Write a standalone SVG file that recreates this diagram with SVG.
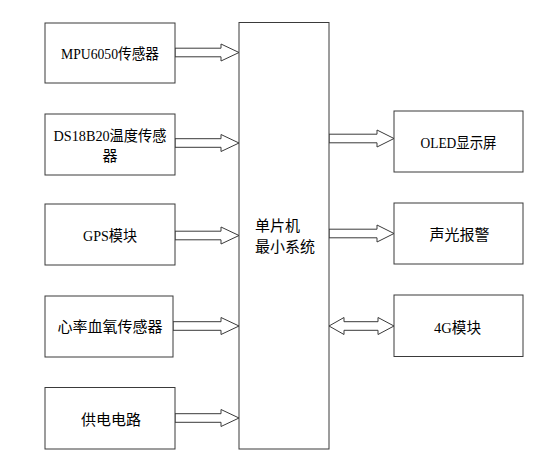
<svg xmlns="http://www.w3.org/2000/svg" width="535" height="457" viewBox="0 0 535 457">
<style>
  .box { fill: #fff; stroke: #3a3a3a; stroke-width: 1; }
  .arw { fill: #fff; stroke: #3a3a3a; stroke-width: 1; stroke-linejoin: miter; }
  .t { font-family: "Liberation Serif", "Noto Sans CJK SC", serif; font-size: 15px; fill: #000; text-anchor: middle; }
  .tl { font-family: "Liberation Serif", "Noto Sans CJK SC", serif; font-size: 15px; fill: #000; }
</style>
<rect width="535" height="457" fill="#fff"/>
<g id="connectors">
  <polygon class="arw" points="175,48.2 221,48.2 221,44 239,52.5 221,61 221,56.8 175,56.8"/>
  <polygon class="arw" points="175,138.7 221,138.7 221,134.5 239,143 221,151.5 221,147.3 175,147.3"/>
  <polygon class="arw" points="175,231.2 221,231.2 221,227 239,235.5 221,244 221,239.8 175,239.8"/>
  <polygon class="arw" points="173,321.7 221,321.7 221,317.5 239,326 221,334.5 221,330.3 173,330.3"/>
  <polygon class="arw" points="175,413.7 221,413.7 221,409.5 239,418 221,426.5 221,422.3 175,422.3"/>
  <polygon class="arw" points="329,134.2 377,134.2 377,130 394,138.5 377,147 377,142.8 329,142.8"/>
  <polygon class="arw" points="329,229.2 377,229.2 377,225 394,233.5 377,242 377,237.8 329,237.8"/>
  <polygon class="arw" points="329,326 344,317.5 344,321.7 378,321.7 378,317.5 394,326 378,334.5 378,330.3 344,330.3 344,334.5"/>
</g>
<g id="mcu">
  <rect class="box" x="239" y="22.5" width="90" height="426.5"/>
  <text class="tl" x="255" y="230.5">单片机</text>
  <text class="tl" x="255" y="252">最小系统</text>
</g>
<g id="mpu6050">
  <rect class="box" x="45" y="23" width="130" height="60"/>
  <text class="t" x="110" y="58.8" textLength="98" lengthAdjust="spacingAndGlyphs">MPU6050传感器</text>
</g>
<g id="ds18b20">
  <rect class="box" x="45" y="114" width="130" height="61"/>
  <text class="t" x="110" y="140.5" textLength="113" lengthAdjust="spacingAndGlyphs">DS18B20温度传感</text>
  <text class="t" x="110" y="160.5">器</text>
</g>
<g id="gps">
  <rect class="box" x="45" y="204" width="130" height="61"/>
  <text class="t" x="110" y="241.2" textLength="54" lengthAdjust="spacingAndGlyphs">GPS模块</text>
</g>
<g id="heart">
  <rect class="box" x="45" y="296" width="128" height="61"/>
  <text class="t" x="110" y="332.2">心率血氧传感器</text>
</g>
<g id="power">
  <rect class="box" x="45" y="387.5" width="130" height="61.5"/>
  <text class="t" x="111" y="424.8">供电电路</text>
</g>
<g id="oled">
  <rect class="box" x="394" y="111" width="129" height="61"/>
  <text class="t" x="458.5" y="147.8" textLength="76" lengthAdjust="spacingAndGlyphs">OLED显示屏</text>
</g>
<g id="alarm">
  <rect class="box" x="394" y="203" width="129" height="61"/>
  <text class="t" x="459.5" y="239.8">声光报警</text>
</g>
<g id="g4">
  <rect class="box" x="394" y="295" width="129" height="61.5"/>
  <text class="t" x="457.5" y="333.2" textLength="47" lengthAdjust="spacingAndGlyphs">4G模块</text>
</g>
</svg>
